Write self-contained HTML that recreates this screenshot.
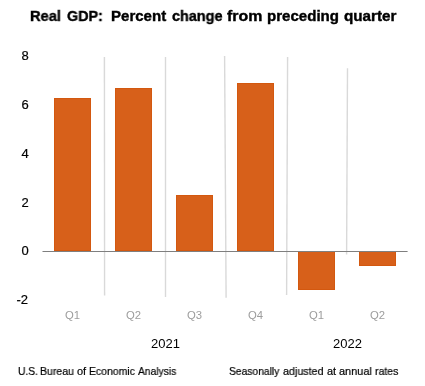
<!DOCTYPE html>
<html><head><meta charset="utf-8">
<style>
html,body{margin:0;padding:0;background:#fff;}
body{width:425px;height:386px;position:relative;overflow:hidden;font-family:"Liberation Sans",sans-serif;}
.t{position:absolute;white-space:nowrap;line-height:1;will-change:transform;}
svg{position:absolute;left:0;top:0;}
.title{font-weight:bold;font-size:15px;color:#000;top:7.5px;transform-origin:0 0;-webkit-text-stroke:0.4px #000;}
.yl{font-size:13px;color:#000;-webkit-text-stroke:0.2px #000;transform:translateX(0.45px);}
.q{font-size:11.3px;color:#9d9d9d;}
.yr{font-size:13px;color:#000;}
.ft{font-size:11px;color:#000;top:366px;transform-origin:0 0;-webkit-text-stroke:0.2px #000;}
</style></head><body>
<svg width="425" height="386" viewBox="0 0 425 386">
  <g stroke="#d9d9d9" stroke-width="1.4">
    <line x1="104.4" y1="57" x2="104.6" y2="295.5"/>
    <line x1="165.5" y1="57" x2="165.5" y2="297"/>
    <line x1="224.6" y1="56" x2="226.1" y2="297.8"/>
    <line x1="287.6" y1="57" x2="286.6" y2="295"/>
    <line x1="347.5" y1="68.3" x2="346.6" y2="254.6"/>
  </g>
  <g fill="#d7601a" stroke="#d3580f" stroke-width="1" shape-rendering="crispEdges">
    <rect x="54.5" y="98.5" width="36" height="152"/>
    <rect x="115.5" y="88.5" width="36" height="162"/>
    <rect x="176.5" y="195.5" width="36" height="55"/>
    <rect x="237.5" y="83.5" width="36" height="167"/>
    <rect x="298.5" y="251.5" width="36" height="38"/>
    <rect x="359.5" y="251.5" width="36" height="14"/>
  </g>
  <line x1="42.5" y1="251.5" x2="407.6" y2="251.5" stroke="#7f7f7f" stroke-width="1"/>
</svg>

<div class="t title" style="left:30.32px;transform:scaleX(0.9767)">Real</div>
<div class="t title" style="left:67.0px;transform:scaleX(0.9556)">GDP:</div>
<div class="t title" style="left:110.8px;transform:scaleX(1.0019)">Percent</div>
<div class="t title" style="left:172.4px;transform:scaleX(0.9615)">change</div>
<div class="t title" style="left:227.3px;transform:scaleX(1.0606)">from</div>
<div class="t title" style="left:266.9px;transform:scaleX(1.0043)">preceding</div>
<div class="t title" style="left:343.8px;transform:scaleX(1.0154)">quarter</div>
<div class="t yl" style="left:21px;top:49px">8</div>
<div class="t yl" style="left:21px;top:98px">6</div>
<div class="t yl" style="left:21px;top:147px">4</div>
<div class="t yl" style="left:21px;top:196px">2</div>
<div class="t yl" style="left:21px;top:244px">0</div>
<div class="t yl" style="left:16.4px;top:293px">-2</div>
<div class="t q" style="left:65px;top:310px">Q1</div>
<div class="t q" style="left:126px;top:310px">Q2</div>
<div class="t q" style="left:187px;top:310px">Q3</div>
<div class="t q" style="left:248px;top:310px">Q4</div>
<div class="t q" style="left:309px;top:310px">Q1</div>
<div class="t q" style="left:370px;top:310px">Q2</div>
<div class="t yr" style="left:151px;top:337px">2021</div>
<div class="t yr" style="left:333px;top:337px">2022</div>
<div class="t ft" style="left:17.99px;transform:scaleX(0.93)">U.S.</div>
<div class="t ft" style="left:40.24px;transform:scaleX(0.9588)">Bureau</div>
<div class="t ft" style="left:77.4px;transform:scaleX(1.0)">of</div>
<div class="t ft" style="left:89.35px;transform:scaleX(0.9511)">Economic</div>
<div class="t ft" style="left:138.2px;transform:scaleX(0.9341)">Analysis</div>
<div class="t ft" style="left:229.16px;transform:scaleX(0.9358)">Seasonally</div>
<div class="t ft" style="left:282.9px;transform:scaleX(0.9756)">adjusted</div>
<div class="t ft" style="left:326.9px;transform:scaleX(1.0)">at</div>
<div class="t ft" style="left:339.1px;transform:scaleX(0.9937)">annual</div>
<div class="t ft" style="left:374.7px;transform:scaleX(0.9542)">rates</div>
</body></html>
